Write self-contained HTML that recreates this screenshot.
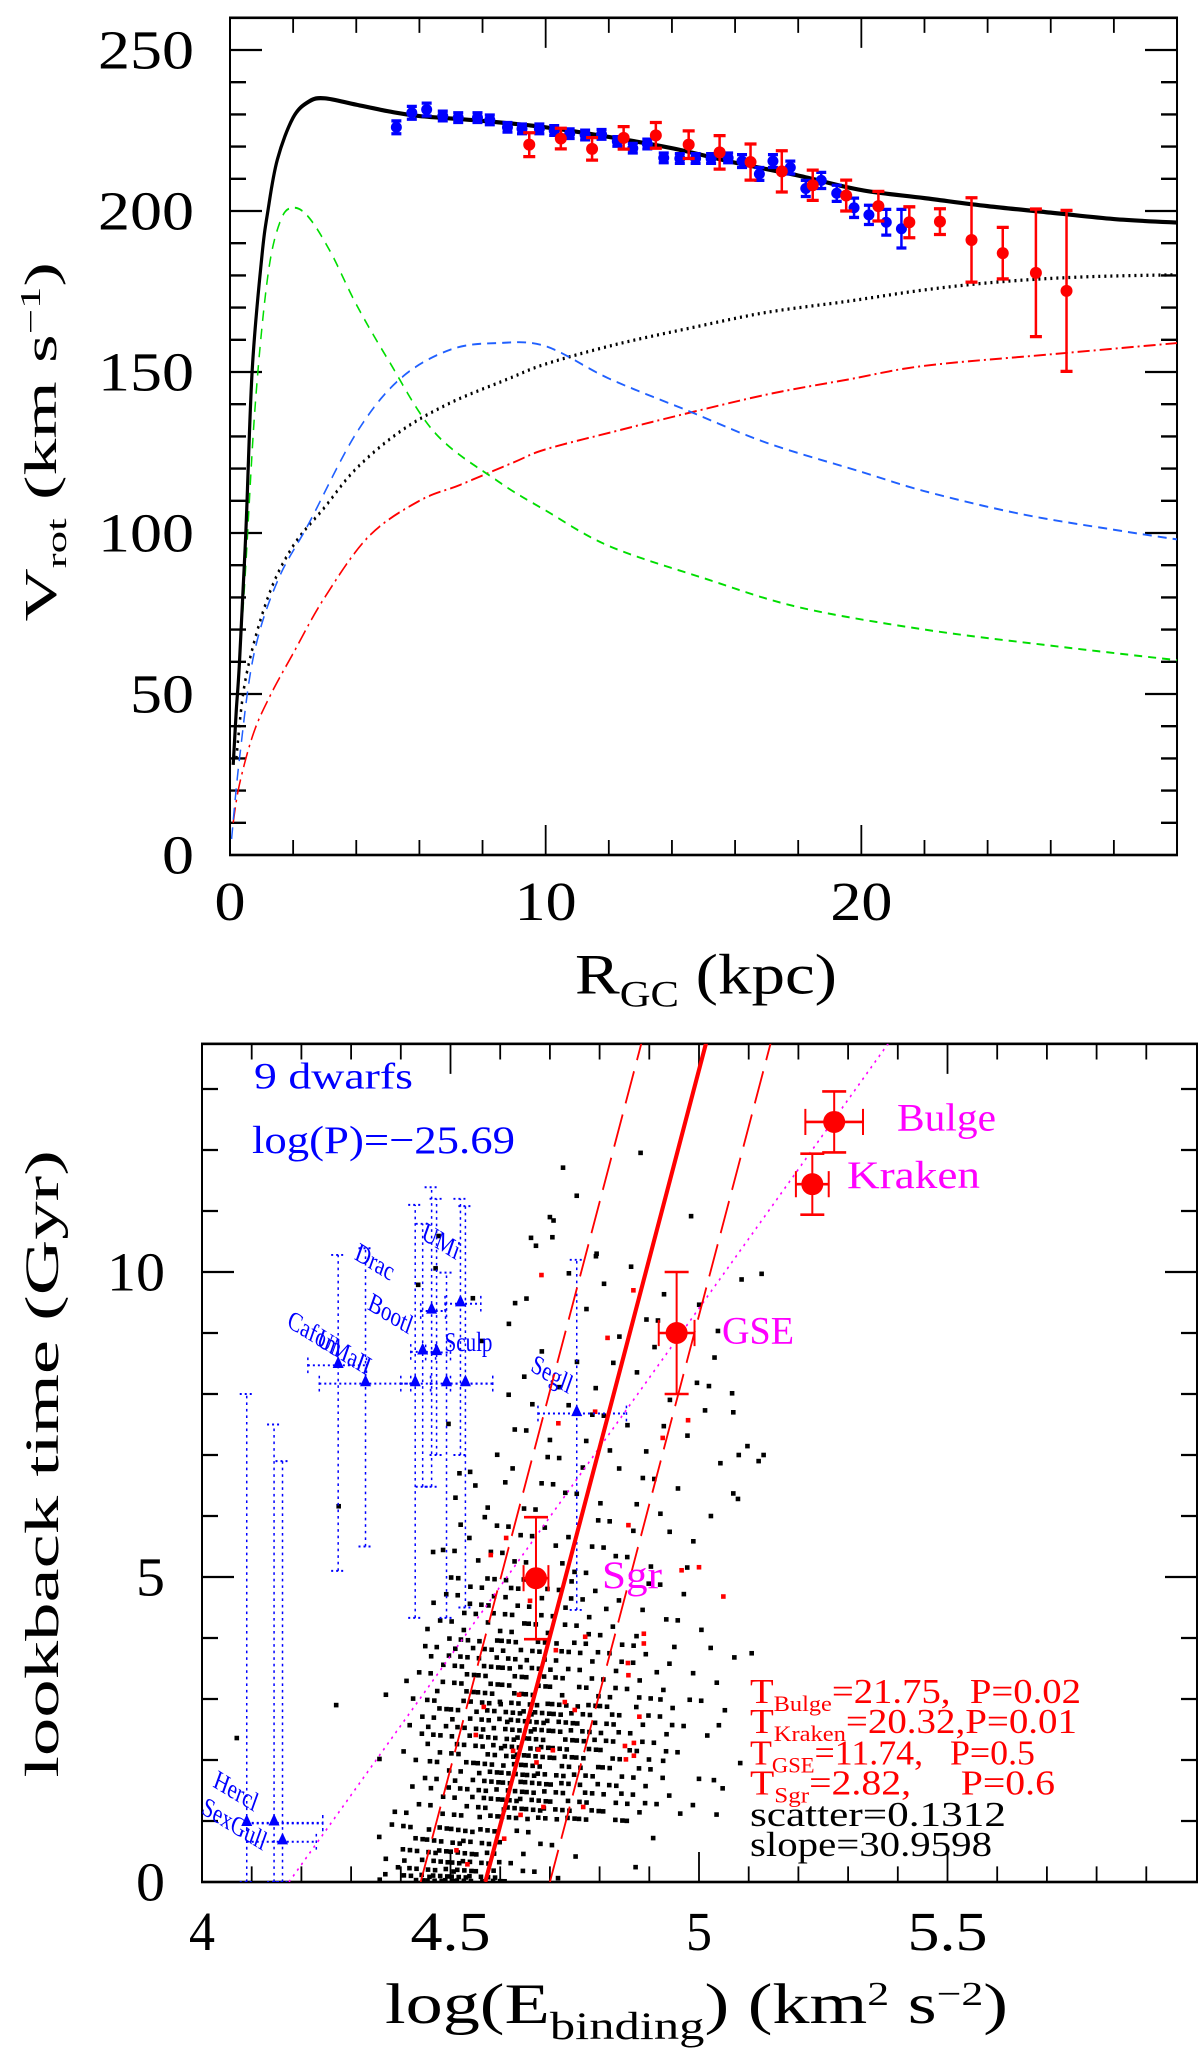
<!DOCTYPE html>
<html><head><meta charset="utf-8"><title>Rotation curve and lookback time vs binding energy</title>
<style>html,body{margin:0;padding:0;background:#fff}svg{display:block}
text{font-family:"Liberation Serif",serif;font-weight:normal}</style></head>
<body>
<svg id="fig" xmlns="http://www.w3.org/2000/svg" width="1200" height="2050" viewBox="0 0 1200 1568.5" preserveAspectRatio="none">
<g id="topPanel"></g>
<g id="botPanel"></g>
</svg>
<script>
// ---------- Top panel data ----------
const blueR=[5.27,5.76,6.23,6.74,7.23,7.84,8.23,8.79,9.25,9.80,10.27,10.76,11.25,11.77,12.27,12.76,13.22,13.74,14.25,14.75,15.24,15.78,16.22,16.77,17.2,17.75,18.24,18.73,19.22,19.77,20.24,20.79,21.27];
const blueV=[226,230.5,231.5,229.5,229,229,228.3,226,225.5,225.5,225,224,223.6,223.8,221.6,219.5,220.8,216.5,216.3,216.3,216.3,216.5,215.5,211.5,215.5,213.5,207,209.5,205.5,201,198.8,196.5,194.5];
const blueErr=[2,2,2,1.5,1.5,1.5,1.5,1.5,1.5,1.5,1.5,1.5,1.5,1.5,1.5,1.5,1.5,1.5,1.5,1.5,1.5,1.5,2,2,2,2,2.5,2.5,2.5,3,3,4,6];
const redR=[9.48,10.48,11.47,12.47,13.49,14.53,15.51,16.49,17.48,18.46,19.52,20.54,21.52,22.49,23.49,24.48,25.53,26.5];
const redV=[220.6,222.5,219.3,222.7,223.5,220.6,218.2,215.2,212.3,208,204.8,201.5,196.5,196.7,191,186.9,180.8,175.2];
const redErr=[3.7,3.2,3.5,3.5,4,4.3,5.2,5.6,6.4,4.7,4.8,4.6,4.8,4,13.1,8,19.8,25];
const totR=[0.1,0.2,0.3,0.5,0.7,1.0,1.2,1.5,2,2.5,3,4,5,6,8,10,12,14,16,18,20,22,24,26,28,30];
const totV=[28,45,60,100,150,185,200,216,229,234,235,233,231,229.5,228,226,223,219.5,215,211,206.5,204,201.5,199.5,197.5,196.4];
const bulR=[0.1,0.3,0.5,0.8,1.2,1.6,2.0,2.5,3.2,4,5,6.5,8.5,10,12,15,18,22,26,30];
const bulV=[30,60,90,140,180,197,201,198,187,171,154,131,116,107,96,86,77,70,65,60.5];
const dskR=[0.05,0.3,0.75,1.5,2.5,4,5.4,7,8.5,10,12,14.5,17,20,22,25,28,30];
const dskV=[5,30,62,85,103,131,148,157,159,158,148,138,128,119,113,106,101,98];
const halR=[0.2,0.5,1.2,2,3,4,5.4,7,8.8,10,12.2,14.5,17,19.6,22,24.4,27,30];
const halV=[30,55,80,96,108,120,131.6,140.5,147.8,152.5,158.5,163.5,168.5,172,175.5,178,179.5,180.2];
const gasR=[0.1,0.3,0.75,1.3,2,3,4.4,6,7.3,9,10,12.2,14,17,19.6,22,26,30];
const gasV=[10,22,38,50,62.6,80,99,110,115,122,126,131.6,136,143,147.7,151.9,155.5,159];
const topXTicks=[0,10,20];
const topYTicks=[0,50,100,150,200,250];

// ---------- Bottom panel data ----------
const gridCols=[4.35,4.40,4.45,4.50,4.55,4.60,4.65,4.70,4.75,4.80,4.85,4.90,4.95,5.00,5.05,5.10];
const gridCounts=[
[6,16,24,28,20,5,3,2,1,0,1,1,0,0,0,0],
[1,4,9,12,20,24,24,18,14,11,8,5,3,2,1,0],
[1,5,11,14,20,26,26,20,16,13,8,7,3,2,1,0],
[0,4,8,14,16,16,14,11,9,7,6,4,2,2,1,0],
[0,0,4,8,10,10,8,6,5,4,3,2,2,1,0,0],
[0,0,1,2,4,4,4,4,3,3,2,2,2,1,0,0],
[0,0,0,1,1,2,3,3,2,2,2,2,1,1,1,0],
[0,0,0,0,1,2,2,2,2,2,2,2,1,1,1,0],
[0,0,0,0,1,1,1,1,2,2,1,1,1,1,1,0],
[0,0,0,0,0,1,1,1,1,1,1,2,1,2,1,0],
[0,0,0,0,0,0,1,1,1,0,1,0,1,0,0,0],
[0,0,0,0,0,0,0,1,0,0,1,0,0,0,0,0]];
const outE=[4.07,4.27,4.37,4.275,4.476,4.47,4.435,4.545,4.63,4.754,4.70,4.662,4.705,4.794,4.496,4.538,4.465,4.51,4.518,4.55,4.625,5.069,5.12,5.02,5.069,5.106,5.04,5.03,5.126,5.08,5.13];
const outT=[2.36,2.9,3.07,6.16,10.59,10.06,9.79,9.57,9.49,11.25,10.9,10.56,10.57,10.3,7.51,5.64,5.41,6.3,6.7,6.5,6.78,7.7,6.9,8.13,6.37,3.75,2.57,1.67,9.97,7.0,7.0];
const redE=[4.66,4.712,4.771,4.889,4.858,4.638,4.567,4.551,4.75,4.73,4.88,4.626,4.677,4.706,4.673,4.853,4.869,4.687,4.767,4.641,4.608,4.512,4.534,4.717,4.791,4.978,4.927,4.858,4.965,5.0,5.049,4.889,4.857,4.851,4.869,4.683,4.868,4.816,4.612,4.581];
const redT=[4.61,3.8,4.02,3.91,3.39,3.07,2.87,2.41,2.82,2.95,2.71,2.15,2.17,2.16,1.96,2.01,2.07,1.23,1.23,1.1,0.71,0.52,0.29,7.52,7.71,7.57,7.28,5.85,5.11,5.16,4.68,4.07,3.59,2.23,2.28,9.95,9.7,8.92,5.64,5.36];
const dwName=["Cafom","UMaII","","Bootl","Drac","Sculp","","UMi","","Segll","Hercl","SexGull",""];
const dwE=[4.274,4.329,4.429,4.444,4.462,4.472,4.492,4.52,4.530,4.754,4.145,4.162,4.090];
const dwT=[8.47,8.17,8.17,8.69,9.36,8.68,8.17,9.48,8.17,7.68,0.97,0.66,0.96];
const dwElo=[4.213,4.236,4.40,4.42,4.44,4.45,4.46,4.489,4.50,4.676,4.09,4.09,4.09];
const dwEhi=[4.331,4.42,4.46,4.47,4.49,4.50,4.585,4.561,4.585,4.854,4.243,4.23,4.243];
const dwTlo=[5.1,5.5,4.33,6.48,6.48,7.0,4.33,7.0,4.5,4.46,0,0,0];
const dwThi=[10.28,10.39,11.1,10.79,11.39,11.2,9.99,11.2,11.08,10.2,7.5,6.9,8.0];
const grpName=["Sgr","GSE","Kraken","Bulge"];
const grpE=[4.672,4.955,5.228,5.272];
const grpT=[4.98,9.0,11.44,12.46];
const grpEerr=[0.025,0.036,0.033,0.058];
const grpTerr=[1,1,0.5,0.5];
const fitSlope=30.96, fitX0=4.570, fitLoX0=4.44, fitHiX0=4.70;
const trendSlope=11.4, trendX0=4.175;
const botXTicks=[4,4.5,5,5.5];
const botYTicks=[0,5,10];

// ---------- helpers ----------
const K=2050/1568.5, NS="http://www.w3.org/2000/svg";
function tx(r){return 230+r*31.567}
function ty(v){return (855-v*3.22)/K}
function bx(e){return 202+(e-4)*497}
function by(t){return (1882-t*61)/K}
function mk(p,tag,at){const e=document.createElementNS(NS,tag);for(const k in at)e.setAttribute(k,at[k]);p.appendChild(e);return e}
function txt(p,s,at){const e=mk(p,'text',at);e.textContent=s;return e}
const topG=document.getElementById('topPanel'), botG=document.getElementById('botPanel');

// ---------- top frame & ticks ----------
const tf=mk(topG,'rect',{x:tx(0),y:ty(260),width:tx(30)-tx(0),height:ty(0)-ty(260),fill:'none',stroke:'#000','stroke-width':2});


let d='';
for(let r=2;r<30;r+=2){const L=(r%10===0?23:11.5);d+=`M${tx(r)} ${ty(0)}v${-L}M${tx(r)} ${ty(260)}v${L}`}
for(let v=10;v<=250;v+=10){const L=(v%50===0?32:16);d+=`M${tx(0)} ${ty(v)}h${L}M${tx(30)} ${ty(v)}h${-L}`}
const tt=mk(topG,'path',{d:d,stroke:'#000','stroke-width':1.8,fill:'none'});


topXTicks.forEach(r=>{const s=String(r);const e=txt(topG,s,{x:tx(r),y:704,'text-anchor':'middle','font-size':42,textLength:s.length*31,lengthAdjust:'spacingAndGlyphs'});

});
topYTicks.forEach(v=>{const s=String(v);const e=txt(topG,s,{x:194,y:ty(v)+14,'text-anchor':'end','font-size':42,textLength:s.length*32,lengthAdjust:'spacingAndGlyphs'});

});
let xt=txt(topG,'',{x:575,y:760,'font-size':44,textLength:262,lengthAdjust:'spacingAndGlyphs'});
xt.innerHTML='R<tspan font-size="28" dy="10">GC</tspan><tspan dy="-10"> (kpc)</tspan>';


let yt=txt(topG,'',{x:0,y:0,'font-size':46,'text-anchor':'middle',transform:`translate(56 338) rotate(-90)`,textLength:275,lengthAdjust:'spacingAndGlyphs'});
yt.innerHTML='V<tspan font-size="28" dy="10">rot</tspan><tspan dy="-10"> (km s</tspan><tspan font-size="28" dy="-16">−1</tspan><tspan dy="16">)</tspan>';



// ---------- top curves (Catmull-Rom smoothed) ----------
function curve(R,V,attrs,name){
 const P=R.map((r,i)=>[tx(r),ty(V[i])]);
 let d=`M${P[0][0].toFixed(1)} ${P[0][1].toFixed(1)}`;
 for(let i=0;i<P.length-1;i++){const p0=P[Math.max(0,i-1)],p1=P[i],p2=P[i+1],p3=P[Math.min(P.length-1,i+2)];
  const c1=[p1[0]+(p2[0]-p0[0])/6,p1[1]+(p2[1]-p0[1])/6],c2=[p2[0]-(p3[0]-p1[0])/6,p2[1]-(p3[1]-p1[1])/6];
  d+=`C${c1[0].toFixed(1)} ${c1[1].toFixed(1)} ${c2[0].toFixed(1)} ${c2[1].toFixed(1)} ${p2[0].toFixed(1)} ${p2[1].toFixed(1)}`;}
 const e=mk(topG,'path',Object.assign({d:d,fill:'none'},attrs));
 
 }
curve(gasR,gasV,{stroke:'#ff0000','stroke-width':1.5,'stroke-dasharray':'12 4 2 4'},'gas-curve');
curve(halR,halV,{stroke:'#000','stroke-width':2.5,'stroke-dasharray':'2 4'},'halo-curve');
curve(dskR,dskV,{stroke:'#2060ff','stroke-width':1.5,'stroke-dasharray':'9 6'},'disk-curve');
curve(bulR,bulV,{stroke:'#00dd00','stroke-width':1.5,'stroke-dasharray':'8 6'},'bulge-curve');
curve(totR,totV,{stroke:'#000','stroke-width':3.2},'total-curve');
blueR.forEach((r,i)=>{const g=mk(topG,'g',{});


const x=tx(r),y1=ty(blueV[i]+blueErr[i]),y2=ty(blueV[i]-blueErr[i]);
mk(g,'path',{d:`M${x} ${y1}V${y2}M${x-5} ${y1}h10M${x-5} ${y2}h10`,stroke:'#0000ff','stroke-width':2.5});
mk(g,'ellipse',{cx:x,cy:ty(blueV[i]),rx:5.5,ry:5.5/K,fill:'#0000ff'});});
redR.forEach((r,i)=>{const g=mk(topG,'g',{});


const x=tx(r),y1=ty(redV[i]+redErr[i]),y2=ty(redV[i]-redErr[i]);
mk(g,'path',{d:`M${x} ${y1}V${y2}M${x-6} ${y1}h12M${x-6} ${y2}h12`,stroke:'#ff0000','stroke-width':2.5});
mk(g,'ellipse',{cx:x,cy:ty(redV[i]),rx:6,ry:6/K,fill:'#ff0000'});});

// ---------- bottom frame & ticks ----------
const bf=mk(botG,'rect',{x:bx(4),y:by(13.74),width:bx(6.002)-bx(4),height:by(0)-by(13.74),fill:'none',stroke:'#000','stroke-width':2});


d='';
for(let i=1;i<20;i++){const e=4+i*0.1;const L=(i%5===0?23:12);d+=`M${bx(e)} ${by(0)}v${-L}M${bx(e)} ${by(13.74)}v${L}`}
for(let t=1;t<=13;t++){const L=(t%5===0?32:16);d+=`M${bx(4)} ${by(t)}h${L}M${bx(6.002)} ${by(t)}h${-L}`}
const bt=mk(botG,'path',{d:d,stroke:'#000','stroke-width':1.8,fill:'none'});


botXTicks.forEach(e=>{const s=String(e);const el=txt(botG,s,{x:bx(e),y:1492,'text-anchor':'middle','font-size':42,textLength:s.length===1?26:80,lengthAdjust:'spacingAndGlyphs'});

});
botYTicks.forEach(t=>{const s=String(t);const el=txt(botG,s,{x:165,y:by(t)+14,'text-anchor':'end','font-size':42,textLength:s.length*29,lengthAdjust:'spacingAndGlyphs'});

});
xt=txt(botG,'',{x:385,y:1548,'font-size':44,textLength:623,lengthAdjust:'spacingAndGlyphs'});
xt.innerHTML='log(E<tspan font-size="30" dy="12">binding</tspan><tspan dy="-12">)  (km</tspan><tspan font-size="26" dy="-14">2</tspan><tspan dy="14"> s</tspan><tspan font-size="26" dy="-14">−2</tspan><tspan dy="14">)</tspan>';


yt=txt(botG,'lookback time (Gyr)',{x:0,y:0,'font-size':48,'text-anchor':'middle',transform:'translate(58 1120) rotate(-90)',textLength:480,lengthAdjust:'spacingAndGlyphs'});



// clip
const cp=mk(botG,'clipPath',{id:'bclip'});mk(cp,'rect',{x:bx(4),y:by(13.74),width:bx(6)-bx(4),height:by(0)-by(13.74)});
const bc=mk(botG,'g',{'clip-path':'url(#bclip)'});



// scatter dots from density grid (R2 low-discrepancy placement inside each cell)
const DS=4.6;
const sg=mk(bc,'g',{fill:'#000'});


gridCounts.forEach((row,ri)=>row.forEach((n,ci)=>{
 const ox=(ri*0.3819+ci*0.7071)%1, oy=(ri*0.8660+ci*0.4142)%1;
 for(let k=0;k<n;k++){
 const fx=(ox+(k+0.5)*0.7548776662)%1, fy0=(oy+(k+0.5)*0.5698402910)%1;
 const fy=ri===0?Math.pow(fy0,1.6)*0.95:fy0;
 const e=gridCols[ci]+fx*0.05, t=ri+fy;
 mk(sg,'rect',{x:bx(e)-DS/2,y:by(t)-DS/2/K,width:DS,height:DS/K});}}));
outE.forEach((e,i)=>{mk(sg,'rect',{x:bx(e)-DS/2,y:by(outT[i])-DS/2/K,width:DS,height:DS/K});});
const rg=mk(bc,'g',{fill:'#ff0000'});


redE.forEach((e,i)=>{mk(rg,'rect',{x:bx(e)-DS/2,y:by(redT[i])-DS/2/K,width:DS,height:DS/K});});

// dwarfs
dwE.forEach((e,i)=>{const g=mk(bc,'g',{stroke:'#0000ff','stroke-width':1.5,'stroke-dasharray':'2 3',fill:'none'});


const x=bx(e),y=by(dwT[i]);
mk(g,'path',{d:`M${x} ${by(dwTlo[i])}V${by(dwThi[i])}M${x-7} ${by(dwThi[i])}h14M${x-7} ${by(dwTlo[i])}h14M${bx(dwElo[i])} ${y}H${bx(dwEhi[i])}M${bx(dwElo[i])} ${y-6}v12M${bx(dwEhi[i])} ${y-6}v12`});
mk(bc,'path',{d:`M${x} ${y-7}l5.5 9h-11z`,fill:'#0000ff'});});
const labOff=[[-52,-30],[-50,-30],null,[-56,-33],[-78,-40],[8,-1],null,[-40,-50],null,[-47,-33],[-62,-28],[-82,-22],null];
dwName.forEach((s,i)=>{if(!s)return;const x=bx(dwE[i])+labOff[i][0],y=by(dwT[i])+labOff[i][1];
const el=txt(bc,s,{x:x,y:y,'font-size':21,fill:'#0000ff',transform:i===5?'':`rotate(25 ${x} ${y})`});

});

// fit lines
function fline(x0,sl,attrs,name){const e=mk(bc,'line',Object.assign({x1:bx(x0),y1:by(0),x2:bx(x0+14/sl),y2:by(14)},attrs));

}
fline(trendX0,trendSlope,{stroke:'#ff00ff','stroke-width':1.5,'stroke-dasharray':'2 4'},'trend-line');
fline(fitLoX0,fitSlope,{stroke:'#ff0000','stroke-width':1.8,'stroke-dasharray':'26 9'},'fit-lower-bound');
fline(fitHiX0,fitSlope,{stroke:'#ff0000','stroke-width':1.8,'stroke-dasharray':'26 9'},'fit-upper-bound');
fline(fitX0,fitSlope,{stroke:'#ff0000','stroke-width':4},'fit-line');

// groups
grpE.forEach((e,i)=>{const g=mk(bc,'g',{stroke:'#ff0000','stroke-width':2,fill:'none'});


const x=bx(e),y=by(grpT[i]),x1=bx(e-grpEerr[i]),x2=bx(e+grpEerr[i]),y1=by(grpT[i]+grpTerr[i]),y2=by(grpT[i]-grpTerr[i]);
mk(g,'path',{d:`M${x1} ${y}H${x2}M${x1} ${y-10}v20M${x2} ${y-10}v20M${x} ${y1}V${y2}M${x-12} ${y1}h24M${x-12} ${y2}h24`});
mk(g,'ellipse',{cx:x,cy:y,rx:11,ry:11/K,fill:'#ff0000',stroke:'none'});});
const gl=[[602,1215],[722,1028],[847,909],[897,865]], gw=[60,72,133,99];
grpName.forEach((s,i)=>{const el=txt(botG,s,{x:gl[i][0],y:gl[i][1],'font-size':30,fill:'#ff00ff',textLength:gw[i],lengthAdjust:'spacingAndGlyphs'});

});

// info text
let el=txt(botG,'9 dwarfs',{x:254,y:833,'font-size':28,fill:'#0000ff',textLength:159,lengthAdjust:'spacingAndGlyphs'});


el=txt(botG,'log(P)=−25.69',{x:252,y:882,'font-size':30,fill:'#0000ff',textLength:263,lengthAdjust:'spacingAndGlyphs'});


const stats=[['T','Bulge','=21.75,  P=0.02',331,1303,'#ff0000'],['T','Kraken','=20.32,P=0.01',327,1326,'#ff0000'],['T','GSE','=11.74,   P=0.5',285,1350,'#ff0000'],['T','Sgr','=2.82,     P=0.6',305,1373,'#ff0000'],['scatter=0.1312','','',256,1397,'#000'],['slope=30.9598','','',242,1420,'#000']];
stats.forEach(s=>{const e=txt(botG,'',{x:750,y:s[4],'font-size':27,fill:s[5],textLength:s[3],lengthAdjust:'spacingAndGlyphs'});
e.innerHTML=s[1]?`${s[0]}<tspan font-size="17" dy="6">${s[1]}</tspan><tspan dy="-6" xml:space="preserve">${s[2]}</tspan>`:s[0];

});
</script>
</body></html>
